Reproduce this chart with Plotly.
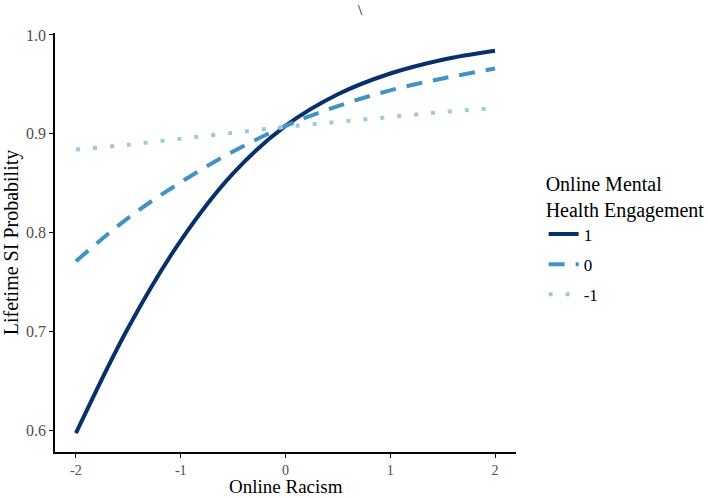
import plotly.graph_objects as go

x_vals = [-2, -1.5, -1, -0.5, 0, 0.5, 1, 1.5, 2]
y_high = [0.597, 0.704, 0.792, 0.860, 0.908, 0.940, 0.961, 0.975, 0.984]
y_mid = [0.771, 0.815, 0.851, 0.882, 0.908, 0.928, 0.944, 0.956, 0.966]
y_low = [0.884, 0.889, 0.895, 0.901, 0.907, 0.912, 0.917, 0.922, 0.926]
series_names = ["1", "0", "-1"]
x_ticks = [-2, -1, 0, 1, 2]
y_ticks = [0.6, 0.7, 0.8, 0.9, 1.0]

FONT = "Liberation Serif, Times New Roman, serif"
B = 46
PH = 498 - 33 - B

fig = go.Figure()
styles = [("#08306B", "solid"), ("#4292C6", "16px,11px"), ("#9ECAE1", "4px,13px")]
for name, ys, (col, dash) in zip(series_names, [y_high, y_mid, y_low], styles):
    fig.add_trace(go.Scatter(
        x=x_vals, y=ys, mode="lines", name=name, legendgroup=name,
        line=dict(color=col, width=4, dash=dash, shape="spline", smoothing=1.0),
    ))

fig.update_layout(
    width=708, height=498,
    margin=dict(l=55, r=192, t=33, b=B, autoexpand=False),
    plot_bgcolor="white", paper_bgcolor="white",
    font=dict(family=FONT, size=16, color="black"),
    showlegend=True,
    legend=dict(
        title=dict(text="Online Mental<br>Health Engagement", font=dict(size=20, family=FONT)),
        x=1.06, y=0.686, xanchor="left", yanchor="top",
        font=dict(size=17, family=FONT),
        itemwidth=30, tracegroupgap=5,
    ),
    xaxis=dict(
        range=[-2.2, 2.2], tickvals=x_ticks, ticktext=[str(v) for v in x_ticks],
        showline=True, linecolor="black", linewidth=1.5, mirror=False,
        ticks="outside", ticklen=4, tickcolor="black", tickwidth=1.2,
        showgrid=False, zeroline=False, automargin=False,
        tickfont=dict(size=14, color="#4d4d4d", family=FONT),
    ),
    yaxis=dict(
        range=[0.578, 1.002], tickvals=y_ticks, ticktext=["0.6", "0.7", "0.8", "0.9", "1.0"],
        showline=True, linecolor="black", linewidth=1.5,
        ticks="outside", ticklen=4, tickcolor="black", tickwidth=1.2,
        showgrid=False, zeroline=False, automargin=False,
        tickfont=dict(size=16, color="#4d4d4d", family=FONT),
        title=dict(text="Lifetime SI Probability", font=dict(size=20, family=FONT), standoff=4),
    ),
    annotations=[
        dict(text="\\", x=(360 - 55) / 461, y=1 + (33 - 10) / PH,
             xref="paper", yref="paper", xanchor="center", yanchor="middle",
             showarrow=False, font=dict(size=15, family=FONT)),
        dict(text="Online Racism", x=0.5, y=-B / PH,
             xref="paper", yref="paper", xanchor="center", yanchor="bottom",
             showarrow=False, borderpad=0, font=dict(size=19, family=FONT)),
    ],
)

fig.write_html("out.html")
